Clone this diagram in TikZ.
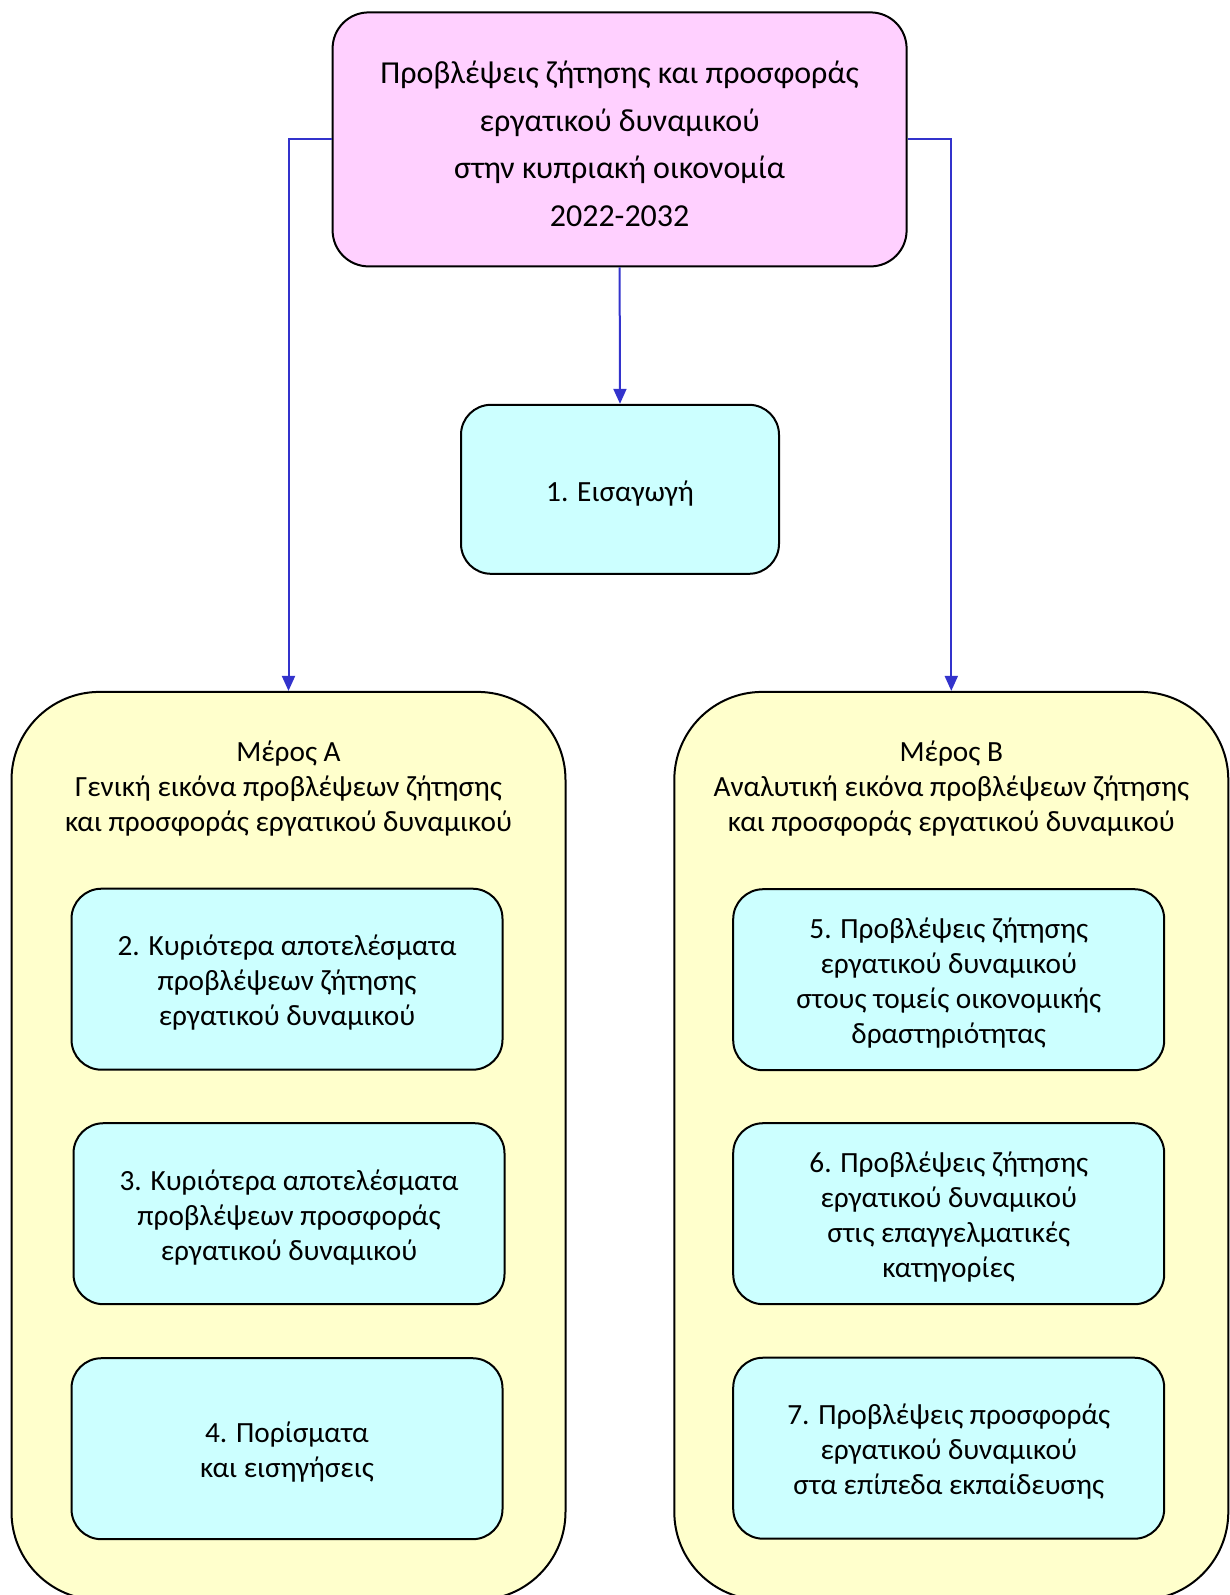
\documentclass[tikz,border=0pt]{standalone}
\usepackage{fontspec}
\setmainfont{Carlito}
\usetikzlibrary{arrows.meta}
\definecolor{pinkfill}{RGB}{255,208,255}
\definecolor{cyanfill}{RGB}{204,255,255}
\definecolor{yellowfill}{RGB}{255,255,204}
\definecolor{linkblue}{RGB}{51,51,204}
\tikzset{
  boxbase/.style={draw=black, line width=2pt, inner sep=0pt},
  topbox/.style={boxbase, fill=pinkfill, rounded corners=36pt, minimum width=574pt, minimum height=254pt},
  chapbox/.style={boxbase, fill=cyanfill, rounded corners=30pt, minimum width=431pt, minimum height=181pt},
  introbox/.style={chapbox, minimum width=318pt, minimum height=169pt},
  partbox/.style={boxbase, fill=yellowfill, rounded corners=88pt, minimum width=554pt, minimum height=908pt},
  toptext/.style={align=center, inner sep=0pt, font=\fontsize{32}{47.5}\selectfont},
  chaptext/.style={align=center, inner sep=0pt, font=\fontsize{29.3}{35}\selectfont},
  parttitle/.style={align=center, inner sep=0pt, font=\fontsize{29.3}{34.6}\selectfont},
  link/.style={draw=linkblue, line width=2pt, -{Triangle[length=15pt,width=13pt]}}
}
\begin{document}
\begin{tikzpicture}[x=1pt,y=-1pt]
\useasboundingbox (0,0) rectangle (1229,1595);
\node[topbox] (top) at (619.6,139.4) {};
\node[toptext] (toptxt) at ([yshift=-4.5pt]top.center) {Προβλέψεις ζήτησης και προσφοράς\\εργατικού δυναμικού\\στην κυπριακή οικονομία\\2022-2032};
\node[introbox] (intro) at (620,489.3) {};
\node[chaptext] (introtxt) at ([yshift=-4pt]intro.center) {1. Εισαγωγή};
\node[partbox] (partA) at (288.5,1145.9) {};
\node[partbox] (partB) at (951.3,1145.9) {};
\node[parttitle] (titleA) at (288.5,788.5) {Μέρος Α\\Γενική εικόνα προβλέψεων ζήτησης\\και προσφοράς εργατικού δυναμικού};
\node[parttitle] (titleB) at (951.3,788.5) {Μέρος Β\\Αναλυτική εικόνα προβλέψεων ζήτησης\\και προσφοράς εργατικού δυναμικού};
\node[chapbox] (c2) at (287,979.2) {};
\node[chaptext] (c2t) at ([yshift=-3.8pt]c2.center) {2. Κυριότερα αποτελέσματα\\προβλέψεων ζήτησης\\εργατικού δυναμικού};
\node[chapbox] (c3) at (289,1213.7) {};
\node[chaptext] (c3t) at ([yshift=-3.8pt]c3.center) {3. Κυριότερα αποτελέσματα\\προβλέψεων προσφοράς\\εργατικού δυναμικού};
\node[chapbox] (c4) at (287,1448.7) {};
\node[chaptext] (c4t) at ([yshift=-3.8pt]c4.center) {4. Πορίσματα\\και εισηγήσεις};
\node[chapbox] (c5) at (948.7,979.7) {};
\node[chaptext] (c5t) at ([yshift=-3.8pt]c5.center) {5. Προβλέψεις ζήτησης\\εργατικού δυναμικού\\στους τομείς οικονομικής\\δραστηριότητας};
\node[chapbox] (c6) at (948.7,1213.7) {};
\node[chaptext] (c6t) at ([yshift=-3.8pt]c6.center) {6. Προβλέψεις ζήτησης\\εργατικού δυναμικού\\στις επαγγελματικές\\κατηγορίες};
\node[chapbox] (c7) at (948.7,1448.2) {};
\node[chaptext] (c7t) at ([yshift=-3.8pt]c7.center) {7. Προβλέψεις προσφοράς\\εργατικού δυναμικού\\στα επίπεδα εκπαίδευσης};
\draw[link] (top.south) -- (intro.north);
\draw[link] (top.west) -| (partA.north);
\draw[link] (top.east) -| (partB.north);
\end{tikzpicture}
\end{document}
